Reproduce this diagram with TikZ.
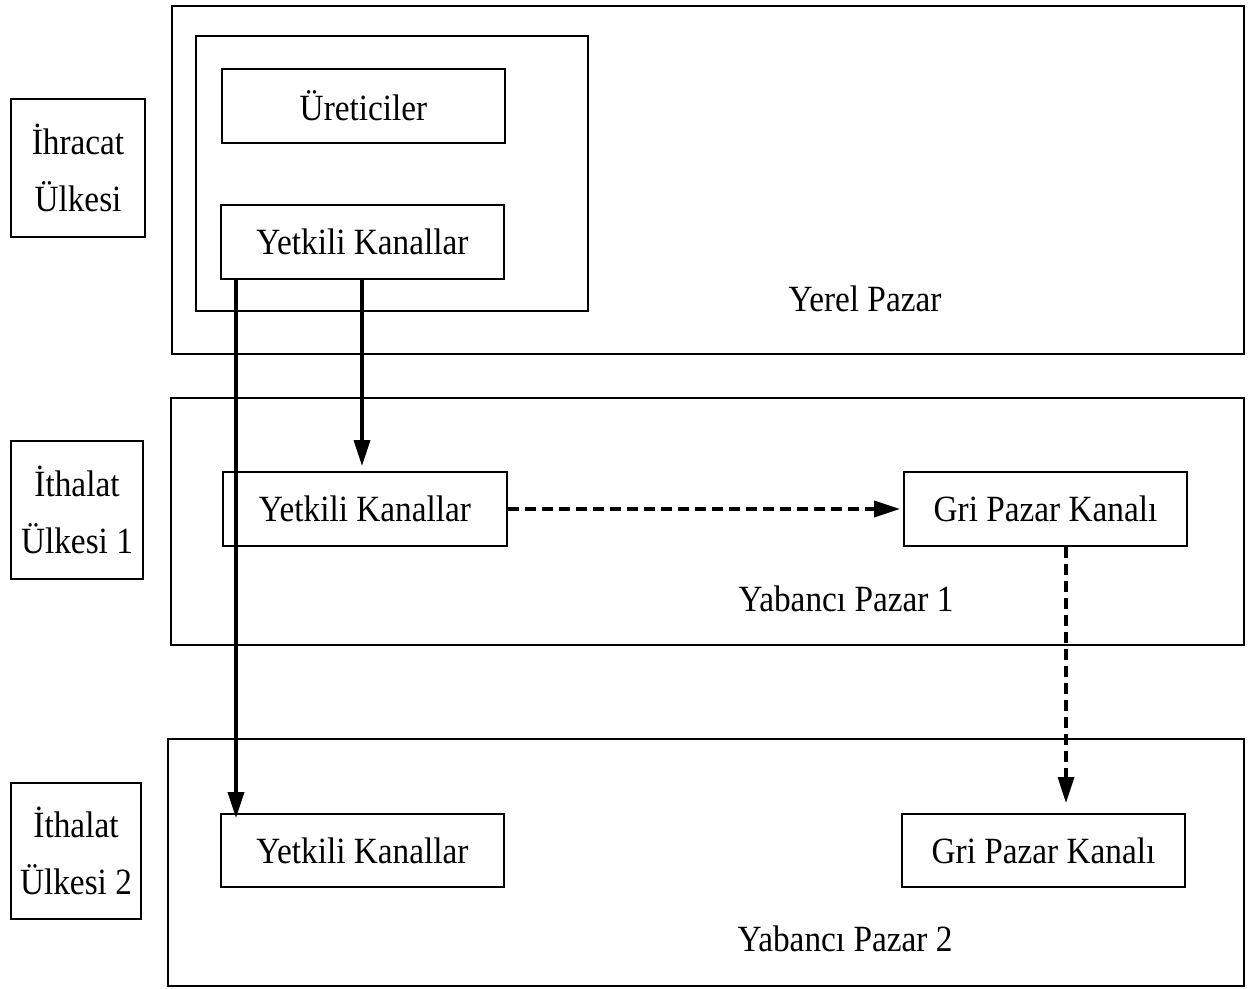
\documentclass[tikz,border=0pt]{standalone}
\usepackage{fontspec}
\setmainfont{Liberation Serif}[FakeStretch=0.9]
\usetikzlibrary{arrows.meta}
\begin{document}
\begin{tikzpicture}[x=1pt,y=-1pt,
  txt/.style={font=\fontsize{37}{57}\selectfont, align=center, inner sep=0pt},
  frame/.style={draw, line width=2pt},
  box/.style={draw, line width=2pt, inner sep=0pt, anchor=north west,
              font=\fontsize{37}{57}\selectfont, align=center},
  flow/.style={line width=3.4pt, -{Triangle[length=26pt,width=16pt]}},
  grey/.style={flow, dash pattern=on 11pt off 6pt}]
\useasboundingbox (0,0) rectangle (1257,988);

% market frames
\draw[frame] (172,6) rectangle (1244,354);
\draw[frame] (171,398) rectangle (1244,645);
\draw[frame] (168,739) rectangle (1244,986);
\draw[frame] (196,36) rectangle (588,311);

\node[txt] (yerel) at (865,299) {Yerel Pazar};
\node[txt] (yab1) at (846,599) {Yabancı Pazar 1};
\node[txt] (yab2) at (845,939) {Yabancı Pazar 2};

% country labels
\node[box, minimum width=134pt, minimum height=138pt] (ihr) at (10,98) {İhracat\\Ülkesi};
\node[box, minimum width=132pt, minimum height=138pt] (ith1) at (10,440) {İthalat\\Ülkesi 1};
\node[box, minimum width=130pt, minimum height=136pt] (ith2) at (10,782) {İthalat\\Ülkesi 2};

% channel boxes
\node[box, minimum width=283pt, minimum height=74pt] (ure) at (221,68) {Üreticiler};
\node[box, minimum width=283pt, minimum height=74pt] (yk0) at (220,204) {Yetkili Kanallar};
\node[box, minimum width=284pt, minimum height=74pt] (yk1) at (222,471) {Yetkili Kanallar};
\node[box, minimum width=283pt, minimum height=74pt] (gri1) at (903,471) {Gri Pazar Kanalı};
\node[box, minimum width=283pt, minimum height=73pt] (yk2) at (220,813) {Yetkili Kanallar};
\node[box, minimum width=283pt, minimum height=73pt] (gri2) at (901,813) {Gri Pazar Kanalı};

% flows
\draw[flow] (yk0.south west -| 362,0) -- ([yshift=5pt]yk1.north west -| 362,0);
\draw[flow] (yk0.south west -| 236,0) -- ([yshift=-5pt]yk2.north west -| 236,0);
\draw[grey] (yk1.east) -- ([xshift=-3pt]gri1.west);
\draw[grey] (gri1.south west -| 1066,0) -- ([yshift=10pt]gri2.north west -| 1066,0);
\end{tikzpicture}
\end{document}
